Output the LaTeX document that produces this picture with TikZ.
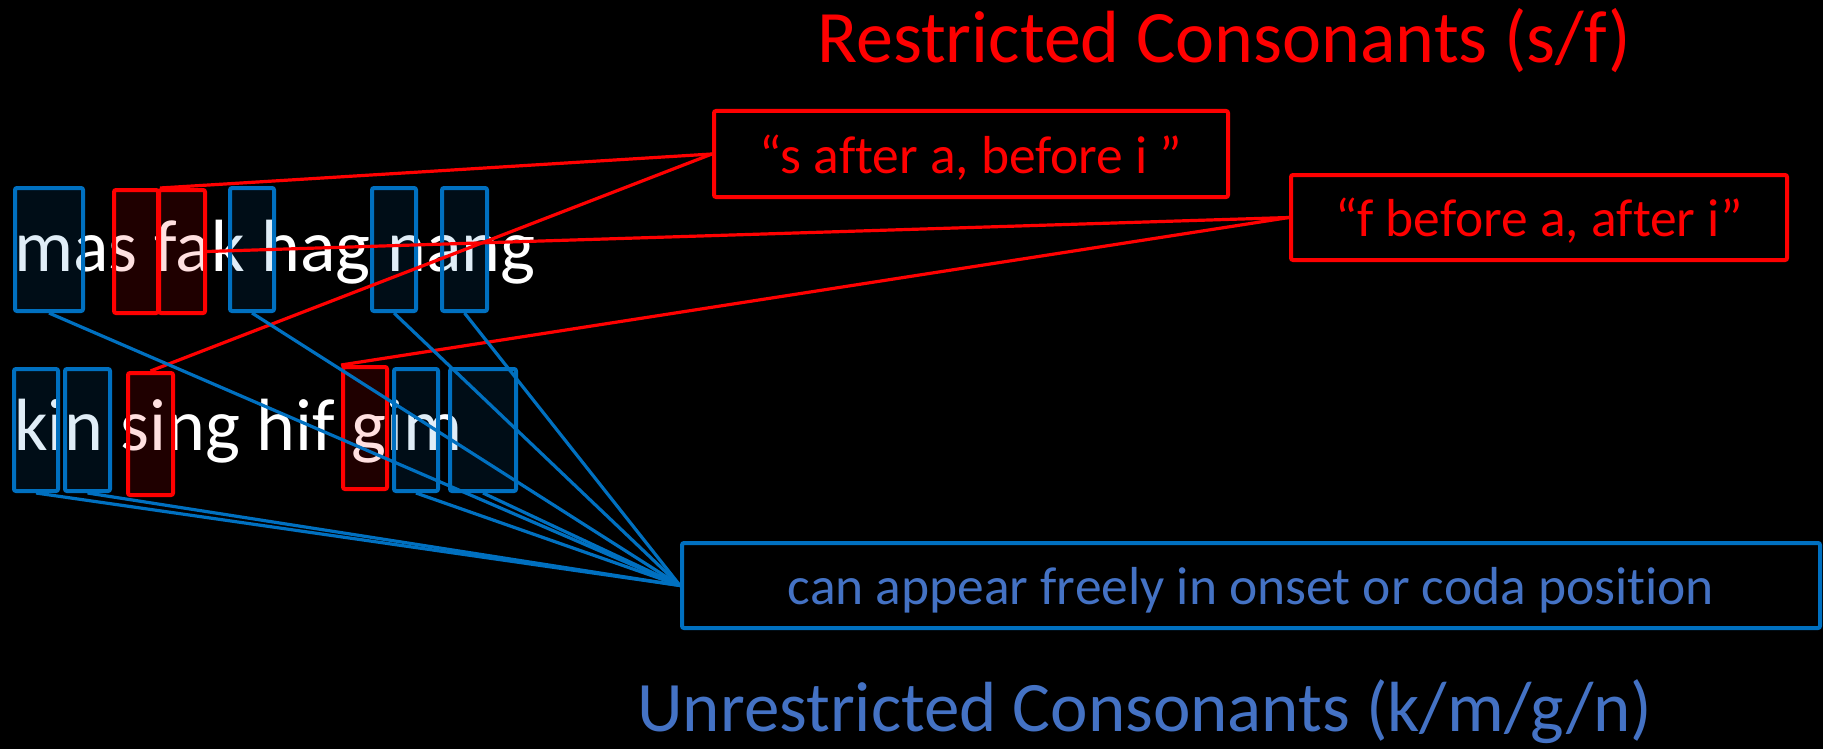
\documentclass[tikz,border=0pt]{standalone}
\usepackage{fontspec}
\setmainfont{Carlito}[Ligatures={NoCommon,NoDiscretionary}]
\definecolor{boxblue}{RGB}{0,112,192}
\definecolor{textblue}{RGB}{68,114,196}
\definecolor{hotred}{RGB}{255,0,0}
\tikzset{
  segbox/.style={line width=4pt, rounded corners=2pt, inner sep=0pt,
    fill opacity=0.12, draw opacity=1, anchor=north west},
  bluebox/.style={segbox, draw=boxblue, fill=boxblue},
  redbox/.style={segbox, draw=hotred, fill=hotred},
  wordtext/.style={text=white, inner sep=0pt, anchor=base west,
    font=\fontsize{74pt}{89pt}\selectfont},
  rulebox/.style={line width=4pt, rounded corners=2pt, inner sep=0pt,
    text depth=0pt, font=\fontsize{53.5pt}{64pt}\selectfont},
  redrule/.style={rulebox, draw=hotred, text=hotred},
  bluerule/.style={rulebox, draw=boxblue, text=textblue},
  heading/.style={inner sep=0pt, anchor=base},
  redlink/.style={draw=hotred, line width=3.2pt},
  bluelink/.style={draw=boxblue, line width=3.2pt},
}
\begin{document}
\begin{tikzpicture}[x=1pt,y=-1pt]
\fill[black] (0,0) rectangle (1823,749);
\useasboundingbox (0,0) rectangle (1823,749);

% headings
\node[heading, text=hotred, font=\fontsize{74pt}{88pt}\selectfont] (hrestr) at (1224,63) {Restricted Consonants (s/f)};
\node[heading, text=textblue, font=\fontsize{71pt}{85pt}\selectfont] (hunres) at (1145,731) {Unrestricted Consonants (k/m/g/n)};

% the two word rows
\node[wordtext] (row1) at (14,271) {mas fak hag nang};
\node[wordtext] (row2) at (14,450) {kin sing hif gim};

% segment highlights, row 1
\node[bluebox, minimum width=68, minimum height=123] (bm1) at (13,186) {};
\node[redbox,  minimum width=44, minimum height=123] (rs1) at (112,188) {};
\node[redbox,  minimum width=46, minimum height=123] (rf1) at (157,188) {};
\node[bluebox, minimum width=44, minimum height=123] (bk1) at (228,186) {};
\node[bluebox, minimum width=44, minimum height=123] (bn1) at (370,186) {};
\node[bluebox, minimum width=45, minimum height=123] (bg1) at (440,186) {};

% segment highlights, row 2
\node[bluebox, minimum width=44, minimum height=122] (bk2) at (12,367) {};
\node[bluebox, minimum width=45, minimum height=122] (bi2) at (63,367) {};
\node[redbox,  minimum width=45, minimum height=122] (rs2) at (126,371) {};
\node[redbox,  minimum width=44, minimum height=122] (rg2) at (341,365) {};
\node[bluebox, minimum width=44, minimum height=122] (bi3) at (392,367) {};
\node[bluebox, minimum width=66, minimum height=122] (bm3) at (448,367) {};

% rule boxes
\node[redrule, minimum width=514, minimum height=86] (lab1) at (971,154) {“s after a, before i ”};
\node[redrule, minimum width=496, minimum height=85] (lab2) at (1539,217.5) {“f before a, after i”};
\node[bluerule, minimum width=1138, minimum height=85] (lab3) at (1251,585.5) {can appear freely in onset or coda position};

% restricted links
\draw[redlink] (rs1.north east) -- (lab1.west);
\draw[redlink] (rs2.north) -- (lab1.west);
\draw[redlink] (rf1.east) -- (lab2.west);
\draw[redlink] (rg2.north west) -- (lab2.west);

% unrestricted links
\foreach \b in {bm1,bk1,bn1,bg1,bk2,bi2,bi3,bm3}
  \draw[bluelink] (\b.south) -- (lab3.west);
\end{tikzpicture}
\end{document}
